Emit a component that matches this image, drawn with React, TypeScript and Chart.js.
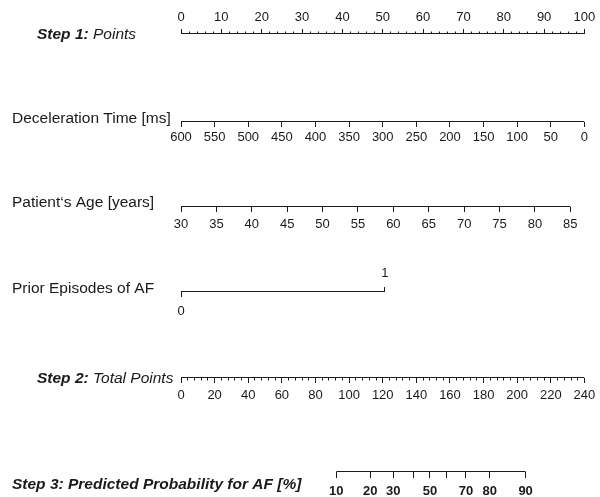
import React, { useEffect, useRef } from 'react';
import { Chart, registerables } from 'chart.js';

Chart.register(...registerables);

// ---------- data ----------
// Step 1: Points scale
const pointsLabels = [0, 10, 20, 30, 40, 50, 60, 70, 80, 90, 100];
const pointsMinorStep = 2;

// Deceleration time [ms]: 600 ms -> 0 points, 0 ms -> 100 points
const decelTicks = [600, 550, 500, 450, 400, 350, 300, 250, 200, 150, 100, 50, 0];
const decelRange = [600, 0];
const decelPoints = [0, 100];

// Patient's age [years]: 30 -> 0 points, 85 -> ~96.5 points
const ageTicks = [30, 35, 40, 45, 50, 55, 60, 65, 70, 75, 80, 85];
const ageRange = [30, 85];
const agePoints = [0, 96.5];

// Prior episodes of AF: 0 -> 0 points, 1 -> ~50.5 points
const priorTicks = [0, 1];
const priorPoints = [0, 50.5];

// Step 2: Total points
const totalLabels = [0, 20, 40, 60, 80, 100, 120, 140, 160, 180, 200, 220, 240];
const totalMinorStep = 4;

// Step 3: Predicted probability [%] and where each tick sits on the total-points scale
const probTicks = [10, 20, 30, 40, 50, 60, 70, 80, 90];
const probTickLabels = ['10', '20', '30', '', '50', '', '70', '80', '90'];
const probTotalPoints = [92.4, 112.6, 126.2, 138.1, 148.1, 158.2, 169.5, 183.7, 205.0];

// Row titles
const rowTitles: [string, string][][] = [
  [['Step 1:', 'bi'], [' Points', 'i']],
  [['Deceleration Time [ms]', '']],
  [['Patient\u2018s Age [years]', '']],
  [['Prior Episodes of AF', '']],
  [['Step 2:', 'bi'], [' Total Points', 'i']],
  [['Step 3: Predicted Probability for AF [%]', 'bi']],
];

// ---------- layout / style ----------
const W = 600;
const H = 497;
const LINE = '#1a1a1a';
const TEXT = '#1a1a1a';
const TITLE_FONT = '"Liberation Sans", Arial, Helvetica, sans-serif';
const TICK_FONT = '"Liberation Sans Narrow", "Arial Narrow", "Liberation Sans", Arial, sans-serif';
const TICK_SIZE = 13;
const TITLE_SIZE = 15.5;

const rowLineY = { points: 33.5, decel: 121.5, age: 206.5, prior: 291.5, total: 377.5, prob: 471.5 };
const rowLabelY = { points: 17, decel: 137, age: 224, prior0: 311, prior1: 273.5, total: 395, prob: 491.5 };
const titleX = [37, 12, 12, 12, 37, 12];
const titleY = [35, 119, 203, 289, 379, 485];

// axis limits so that each variable lines up with the points scale (0..100)
function limitsFromAnchors(vals: number[], pts: number[]) {
  const slope = (vals[1] - vals[0]) / (pts[1] - pts[0]);
  const a = vals[0] - pts[0] * slope;
  const b = vals[0] + (100 - pts[0]) * slope;
  return { min: Math.min(a, b), max: Math.max(a, b), reverse: a > b };
}

function axis(o: {
  lineY: number; labelY?: number; tl: number; min: number; max: number; reverse?: boolean;
  ticks?: number[]; step?: number; callback?: (v: number, i: number) => string; bold?: boolean; showLabels?: boolean;
}) {
  const lh = TICK_SIZE * 1.2;
  const pad = o.labelY !== undefined ? o.labelY - o.lineY - o.tl - lh / 2 : 0;
  const sc: any = {
    type: 'linear',
    axis: 'x',
    min: o.min,
    max: o.max,
    reverse: !!o.reverse,
    position: { y: o.lineY },
    border: { display: false },
    grid: { display: true, drawOnChartArea: false, drawTicks: true, tickLength: o.tl, tickWidth: 1, tickColor: LINE },
    ticks: {
      display: o.showLabels !== false,
      autoSkip: false,
      maxRotation: 0,
      minRotation: 0,
      padding: pad,
      color: TEXT,
      font: { family: TICK_FONT, size: TICK_SIZE, weight: o.bold ? 'bold' : 'normal' },
      callback: (v: number, i: number) => (o.callback ? o.callback(v, i) : String(v)),
    },
  };
  if (o.step) sc.ticks.stepSize = o.step;
  if (o.ticks) {
    const t = o.ticks;
    sc.afterBuildTicks = (s: any) => { s.ticks = t.map((v) => ({ value: v })); };
  }
  return sc;
}

const lineDs = (axisId: string, from: number, to: number, y: number) => ({
  type: 'line' as const,
  xAxisID: axisId,
  yAxisID: 'y',
  data: [{ x: from, y }, { x: to, y }],
  borderColor: LINE,
  borderWidth: 1,
  pointRadius: 0,
  fill: false,
  tension: 0,
  borderCapStyle: 'butt' as const,
});

const titlePlugin = {
  id: 'rowTitles',
  afterDraw(chart: any) {
    const { ctx } = chart;
    const ys = chart.scales.y;
    ctx.save();
    ctx.fillStyle = TEXT;
    ctx.textBaseline = 'middle';
    ctx.textAlign = 'left';
    rowTitles.forEach((parts, r) => {
      let x = titleX[r];
      const y = ys.getPixelForValue(titleY[r]);
      parts.forEach(([text, style]) => {
        ctx.font = `${style.includes('i') ? 'italic ' : ''}${style.includes('b') ? 'bold ' : ''}${TITLE_SIZE}px ${TITLE_FONT}`;
        ctx.fillText(text, x, y);
        x += ctx.measureText(text).width;
      });
    });
    ctx.restore();
  },
};

export default function App() {
  const ref = useRef<HTMLCanvasElement>(null);

  useEffect(() => {
    if (!ref.current) return;
    const dec = limitsFromAnchors(decelRange, decelPoints);
    const age = limitsFromAnchors(ageRange, agePoints);
    const prior = limitsFromAnchors(priorTicks, priorPoints);
    const totalMax = totalLabels[totalLabels.length - 1];

    const chart = new Chart(ref.current, {
      type: 'line',
      data: {
        datasets: [
          lineDs('x', pointsLabels[0], pointsLabels[pointsLabels.length - 1], rowLineY.points),
          lineDs('dec', decelRange[0], decelRange[1], rowLineY.decel),
          lineDs('age', ageRange[0], ageRange[1], rowLineY.age),
          lineDs('prior0', priorTicks[0], priorTicks[1], rowLineY.prior),
          lineDs('total', totalLabels[0], totalMax, rowLineY.total),
          lineDs('prob', probTotalPoints[0], probTotalPoints[probTotalPoints.length - 1], rowLineY.prob),
        ] as any,
      },
      options: {
        responsive: false,
        animation: false,
        devicePixelRatio: 1,
        events: [],
        layout: { padding: { left: 181, right: 13, top: 0, bottom: 0 } },
        plugins: { legend: { display: false }, tooltip: { enabled: false }, title: { display: false } },
        scales: {
          y: { type: 'linear', axis: 'y', position: 'left', min: 0, max: H, reverse: true, display: false },
          // Step 1 points: major ticks + labels, minor ticks
          x: axis({
            lineY: rowLineY.points, labelY: rowLabelY.points, tl: -5, min: 0, max: 100,
            ticks: pointsLabels,
          }),
          xMinor: axis({ lineY: rowLineY.points, tl: -2.5, min: 0, max: 100, step: pointsMinorStep, showLabels: false }),
          dec: axis({
            lineY: rowLineY.decel, labelY: rowLabelY.decel, tl: 5, min: dec.min, max: dec.max, reverse: dec.reverse,
            ticks: decelTicks,
          }),
          age: axis({
            lineY: rowLineY.age, labelY: rowLabelY.age, tl: 5, min: age.min, max: age.max, reverse: age.reverse,
            ticks: ageTicks,
          }),
          prior0: axis({
            lineY: rowLineY.prior, labelY: rowLabelY.prior0, tl: 5, min: prior.min, max: prior.max,
            ticks: [priorTicks[0]],
          }),
          prior1: axis({
            lineY: rowLineY.prior, labelY: rowLabelY.prior1, tl: -5, min: prior.min, max: prior.max,
            ticks: [priorTicks[1]],
          }),
          total: axis({
            lineY: rowLineY.total, labelY: rowLabelY.total, tl: 5, min: 0, max: totalMax,
            ticks: totalLabels,
          }),
          totalMinor: axis({ lineY: rowLineY.total, tl: 2.5, min: 0, max: totalMax, step: totalMinorStep, showLabels: false }),
          prob: axis({
            lineY: rowLineY.prob, labelY: rowLabelY.prob, tl: 6, min: 0, max: totalMax,
            ticks: probTotalPoints, bold: true,
            callback: (_v, i) => probTickLabels[i] ?? '',
          }),
        } as any,
      },
      plugins: [titlePlugin],
    });
    return () => chart.destroy();
  }, []);

  return (
    <div style={{ position: 'absolute', left: 0, top: 0, width: W, height: H, background: '#fff' }}>
      <canvas ref={ref} width={W} height={H} style={{ display: 'block' }} />
    </div>
  );
}
